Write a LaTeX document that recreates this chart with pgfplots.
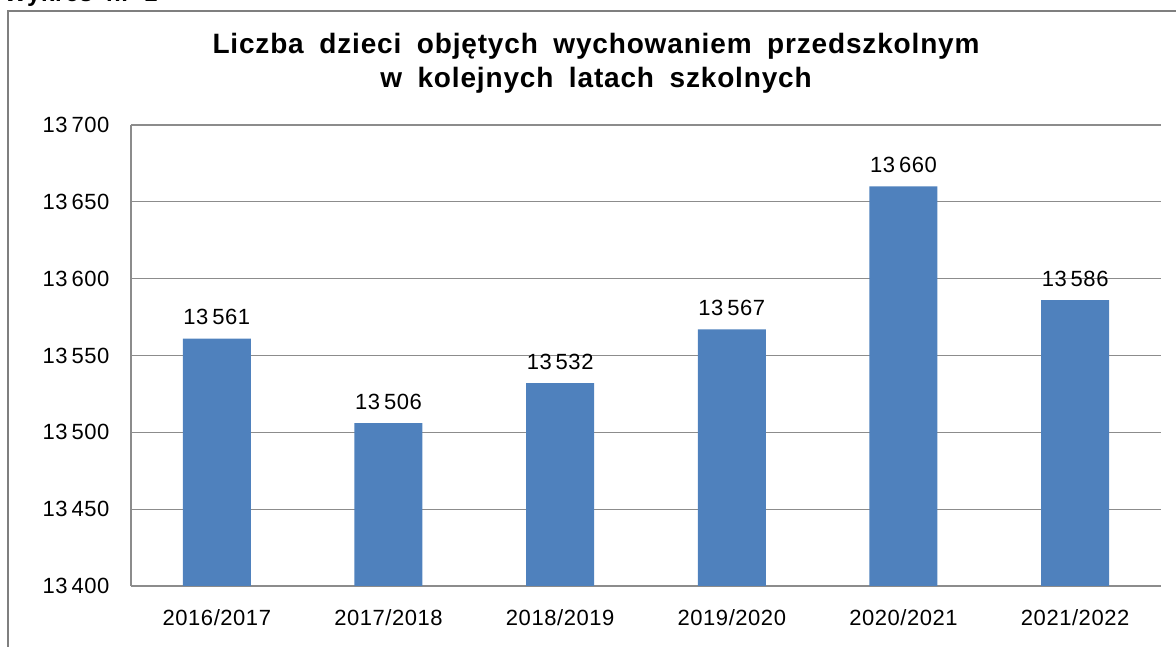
\documentclass[border=0pt]{standalone}
\usepackage{fontspec}
\setmainfont{Liberation Sans}
\newfontfamily\lsfont[LetterSpace=2.5]{Liberation Sans}
\newfontfamily\titlefont[LetterSpace=3,WordSpace=1.8]{Liberation Sans}
\usepackage{pgfplots}
\pgfplotsset{compat=1.18}
\definecolor{barblue}{HTML}{4F81BD}
\definecolor{gridgray}{HTML}{8C8C8C}
\definecolor{framegray}{HTML}{7F7F7F}
\begin{document}
\begin{tikzpicture}[x=1pt,y=1pt]
\path[use as bounding box] (0,0) rectangle (1176,647);
\begin{scope}
\clip (0,0) rectangle (1176,647);
\draw[framegray, line width=2pt] (8,-10) -- (8,636) -- (1190,636);
\node[anchor=base west, font=\titlefont\bfseries\fontsize{24}{28}\selectfont, inner sep=0] at (4,645) {Wykres nr 1};
\end{scope}
\node[align=center, font=\titlefont\bfseries\fontsize{28}{34}\selectfont] at (596,584) {Liczba dzieci objętych wychowaniem przedszkolnym\\w kolejnych latach szkolnych};
\begin{axis}[
  at={(131pt,61pt)}, anchor=south west, scale only axis,
  width=1030pt, height=461pt,
  xmin=-0.5, xmax=5.5, ymin=13400, ymax=13700,
  ytick={13400,13450,13500,13550,13600,13650,13700},
  xtick={0,1,2,3,4,5},
  xticklabels={2016/2017,2017/2018,2018/2019,2019/2020,2020/2021,2021/2022},
  major tick length=0pt,
  axis x line*=bottom, axis y line*=left,
  axis line style={gridgray, line width=1.2pt},
  ymajorgrids, grid style={gridgray, line width=1.2pt},
  /pgf/number format/assume math mode=true,
  /pgf/number format/1000 sep={\kern0.18em},
  scaled y ticks=false,
  yticklabel style={font=\lsfont\fontsize{22}{26}\selectfont, xshift=-18pt},
  xticklabel style={font=\lsfont\fontsize{22}{26}\selectfont, yshift=-20pt},
  clip=false,
]
\addplot[ybar, bar width=68pt, fill=barblue, draw=none,
  nodes near coords,
  nodes near coords style={font=\lsfont\fontsize{22}{26}\selectfont, yshift=10pt, /pgf/number format/1000 sep={\kern0.18em}, /pgf/number format/assume math mode=true}]
  coordinates {(0,13561) (1,13506) (2,13532) (3,13567) (4,13660) (5,13586)};
\end{axis}
\end{tikzpicture}
\end{document}
